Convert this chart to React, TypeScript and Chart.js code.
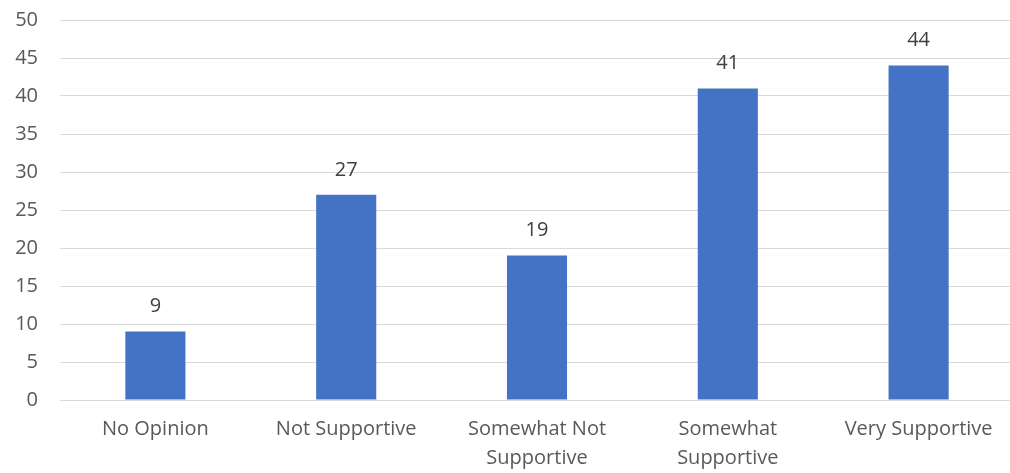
import React, { useEffect, useRef } from "react";
import { Chart, registerables } from "chart.js";

Chart.register(...registerables);

const categories: (string | string[])[] = [
  "No Opinion",
  "Not Supportive",
  ["Somewhat Not", "Supportive"],
  ["Somewhat", "Supportive"],
  "Very Supportive",
];
const values: number[] = [9, 27, 19, 41, 44];
const yTicks: number[] = [0, 5, 10, 15, 20, 25, 30, 35, 40, 45, 50];

const FONT = "'Open Sans', 'Noto Sans', sans-serif";

const labelPlugin = {
  id: "barLabels",
  afterDatasetsDraw(chart: any) {
    const ctx = chart.ctx;
    const meta = chart.getDatasetMeta(0);
    ctx.save();
    ctx.fillStyle = "#404040";
    ctx.font = `20px ${FONT}`;
    ctx.textAlign = "center";
    ctx.textBaseline = "middle";
    meta.data.forEach((bar: any, i: number) => {
      ctx.fillText(String(values[i]), bar.x, bar.y - 25);
    });
    ctx.restore();
  },
};

export default function App() {
  const ref = useRef<HTMLCanvasElement>(null);
  useEffect(() => {
    if (!ref.current) return;
    const chart = new Chart(ref.current, {
      type: "bar",
      data: {
        labels: categories,
        datasets: [
          {
            data: values,
            backgroundColor: "#4472C4",
            barPercentage: 0.315,
            categoryPercentage: 1,
          },
        ],
      },
      options: {
        animation: false,
        responsive: false,
        maintainAspectRatio: false,
        layout: { padding: { top: 0, right: 0, bottom: 0, left: 0 } },
        plugins: { legend: { display: false }, tooltip: { enabled: false } },
        scales: {
          x: {
            afterFit(scale: any) {
              scale.height = 73;
            },
            grid: { display: false, drawTicks: false },
            border: { display: true, color: "#d9d9d9", width: 1 },
            ticks: {
              color: "#595959",
              font: { family: FONT, size: 20, lineHeight: 1.45 },
              padding: 15,
              maxRotation: 0,
              autoSkip: false,
            },
          },
          y: {
            min: 0,
            max: 50,
            afterFit(scale: any) {
              scale.width = 60;
            },
            afterBuildTicks(scale: any) {
              scale.ticks = yTicks.map((v) => ({ value: v }));
            },
            grid: { color: "#d9d9d9", drawTicks: false, lineWidth: 1 },
            border: { display: false },
            ticks: {
              color: "#595959",
              font: { family: FONT, size: 20 },
              padding: 22,
            },
          },
        },
      },
      plugins: [labelPlugin],
    });
    return () => chart.destroy();
  }, []);
  return (
    <div
      style={{
        position: "fixed",
        left: 0,
        top: 0,
        width: 1010,
        height: 473,
        overflow: "hidden",
        background: "#fff",
      }}
    >
      <canvas
        ref={ref}
        width={1014}
        height={487}
        style={{ display: "block", position: "absolute", left: 0, top: -14 }}
      />
    </div>
  );
}
